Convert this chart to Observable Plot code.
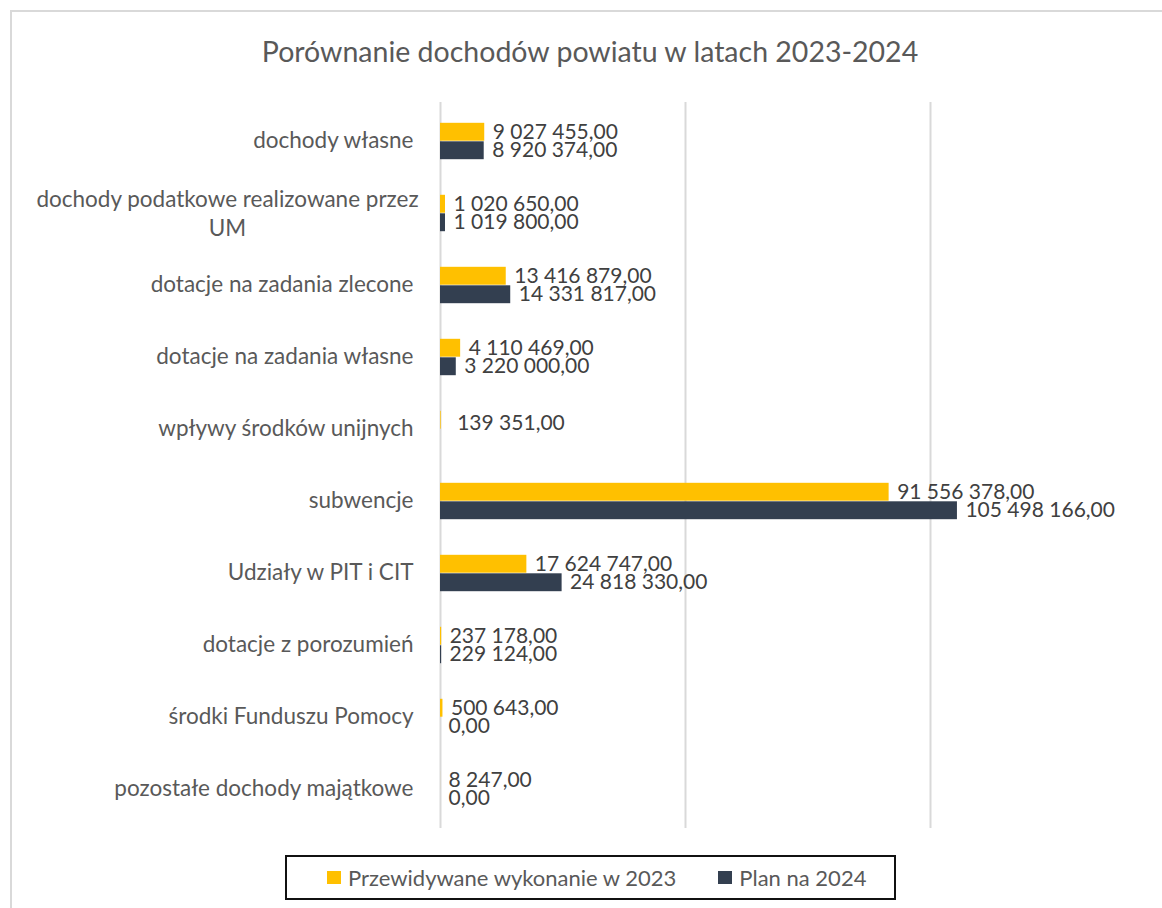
<!DOCTYPE html>
<html>
<head>
<meta charset="utf-8">
<script src="https://cdn.jsdelivr.net/npm/d3@7"></script>
<script src="https://cdn.jsdelivr.net/npm/@observablehq/plot@0.6"></script>
<style>
  html, body { margin: 0; padding: 0; background: #fff; }
  body { width: 1162px; height: 908px; overflow: hidden; font-family: Lato, "Open Sans", sans-serif; }
  #wrap { position: relative; width: 1162px; height: 908px; }
  #frame { position: absolute; left: 10px; top: 10px; width: 1180px; height: 920px; border: 2px solid #d9d9d9; box-sizing: border-box; }
  #title { position: absolute; left: 10px; width: 1160px; top: 34px; text-align: center; font-size: 28.5px; color: #595959; }
  #chart { position: absolute; left: 0; top: 90px; }
  #legend { position: absolute; left: 285px; top: 855px; width: 611px; height: 45px; border: 2px solid #111; box-sizing: border-box; display: flex; align-items: center; font-size: 22px; color: #595959; }
  .sw { display: inline-block; width: 14px; height: 13px; margin-right: 7px; }
  .item { display: flex; align-items: center; }
</style>
</head>
<body>
<div id="wrap">
  <div id="frame"></div>
  <div id="title">Porównanie dochodów powiatu w latach 2023-2024</div>
  <div id="chart"></div>
  <div id="legend"></div>
</div>
<script>
const categories = [
  "dochody własne",
  "dochody podatkowe realizowane przez\nUM",
  "dotacje na zadania zlecone",
  "dotacje na zadania własne",
  "wpływy środków unijnych",
  "subwencje",
  "Udziały w PIT i CIT",
  "dotacje z porozumień",
  "środki Funduszu Pomocy",
  "pozostałe dochody majątkowe"
];
const values2023 = [9027455, 1020650, 13416879, 4110469, 139351, 91556378, 17624747, 237178, 500643, 8247];
const values2024 = [8920374, 1019800, 14331817, 3220000, null, 105498166, 24818330, 229124, 0, 0];
const seriesNames = ["Przewidywane wykonanie w 2023", "Plan na 2024"];
const colors = ["#FFC000", "#333F50"];
const gridTicks = [0, 50000000, 100000000];

const rows = categories.map((c, i) => ({category: c, v23: values2023[i], v24: values2024[i]}));
const pl = d3.formatLocale({decimal: ",", thousands: "\u00a0", grouping: [3], currency: ["", ""]});
const fmt = pl.format(",.2f");

const W = 1162, H = 750, mT = 12, mB = 12;
const bandH = (H - mT - mB) / categories.length;
const barH = 18.5;
const font = "Lato, 'Open Sans', sans-serif";

const chart = Plot.plot({
  width: W,
  height: H,
  marginLeft: 440,
  marginRight: 134,
  marginTop: mT,
  marginBottom: mB,
  style: {fontFamily: font, background: "transparent"},
  x: {domain: [0, 120000000], axis: null},
  y: {domain: categories, padding: 0, axis: null},
  marks: [
    Plot.gridX(gridTicks, {stroke: "#d9d9d9", strokeOpacity: 1, strokeWidth: 2}),
    Plot.barX(rows.filter(d => d.v23 != null), {x: "v23", y: "category", fill: colors[0], insetTop: bandH / 2 - barH, insetBottom: bandH / 2}),
    Plot.barX(rows.filter(d => d.v24 != null), {x: "v24", y: "category", fill: colors[1], insetTop: bandH / 2, insetBottom: bandH / 2 - barH}),
    Plot.text(rows.filter(d => d.v23 != null && d.v24 != null), {x: "v23", y: "category", text: d => fmt(d.v23), dx: 8, dy: -9, textAnchor: "start", fontSize: 21, fill: "#404040"}),
    Plot.text(rows.filter(d => d.v23 != null && d.v24 == null), {x: "v23", y: "category", text: d => fmt(d.v23), dx: 16, dy: -6, textAnchor: "start", fontSize: 21, fill: "#404040"}),
    Plot.text(rows.filter(d => d.v24 != null), {x: "v24", y: "category", text: d => fmt(d.v24), dx: 8, dy: 9, textAnchor: "start", fontSize: 21, fill: "#404040"}),
    Plot.text(rows.filter(d => !d.category.includes("\n")), {x: 0, y: "category", text: "category", dx: -27, dy: -1, textAnchor: "end", fontSize: 22.5, fill: "#595959"}),
    Plot.text(rows.filter(d => d.category.includes("\n")), {x: 0, y: "category", text: "category", dx: -213, dy: -1, textAnchor: "middle", lineHeight: 1.3, fontSize: 22.5, fill: "#595959"})
  ]
});
document.getElementById("chart").appendChild(chart);

const legend = document.getElementById("legend");
seriesNames.forEach((name, i) => {
  const it = document.createElement("span");
  it.className = "item";
  it.style.marginLeft = i === 0 ? "40px" : "42px";
  const sw = document.createElement("span");
  sw.className = "sw";
  sw.style.background = colors[i];
  it.appendChild(sw);
  it.appendChild(document.createTextNode(name));
  legend.appendChild(it);
});
</script>
</body>
</html>
